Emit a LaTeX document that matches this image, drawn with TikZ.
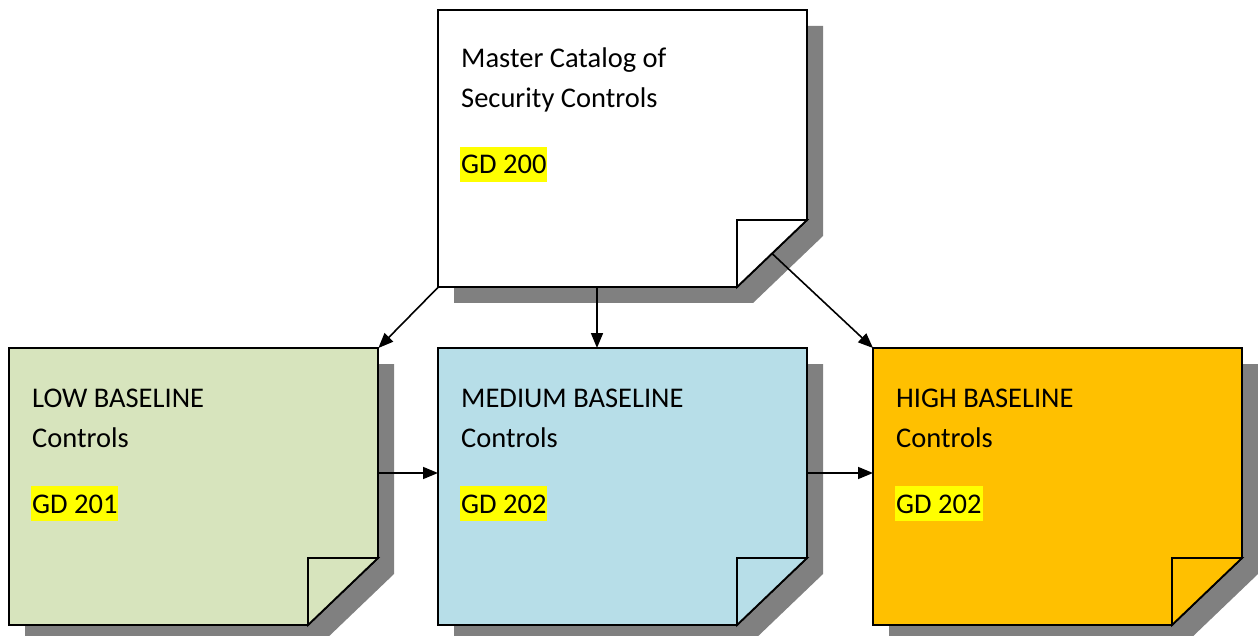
\documentclass[tikz,border=0pt]{standalone}
\usepackage{fontspec}
\setmainfont{Carlito}
\usetikzlibrary{arrows.meta}
\definecolor{lowgreen}{HTML}{D7E4BD}
\definecolor{medblue}{HTML}{B7DEE8}
\definecolor{highorange}{HTML}{FFC000}
\definecolor{shadowgray}{HTML}{808080}
\definecolor{hlyellow}{HTML}{FFFF00}
\tikzset{
  shadowfill/.style={fill=shadowgray},
  noteline/.style={draw=black, line width=1.8pt, line join=miter},
  txt/.style={anchor=base west, inner sep=0pt, font=\fontsize{28.5}{40}\selectfont},
  hl/.style={anchor=base west, inner xsep=1pt, inner ysep=0pt, fill=hlyellow, text height=27pt, text depth=8pt, font=\fontsize{28.5}{40}\selectfont},
  conn/.style={line width=1.6pt, -{Triangle[length=15pt,width=12pt]}},
}
% #1 name, #2 left, #3 top, #4 fill colour
\newcommand\notebox[4]{%
  \node[rectangle, minimum width=369pt, minimum height=277pt, inner sep=0pt, anchor=north west] (#1) at (#2,#3) {};
  \fill[shadowfill] ({#2+16},{#3+16}) -- ({#2+385},{#3+16}) -- ({#2+385},{#3+226}) -- ({#2+315},{#3+293}) -- ({#2+16},{#3+293}) -- cycle;
  \path[noteline, fill=#4] (#2,#3) -- ({#2+369},#3) -- ({#2+369},{#3+210}) -- ({#2+299},{#3+277}) -- (#2,{#3+277}) -- cycle;
  \path[noteline, fill=#4] ({#2+299},{#3+210}) -- ({#2+369},{#3+210}) -- ({#2+299},{#3+277}) -- cycle;
  \coordinate (#1fold) at ({#2+334},{#3+243.5});
}
\begin{document}
\begin{tikzpicture}[x=1pt,y=-1pt]
\useasboundingbox (0,0) rectangle (1258,636);
\fill[white] (0,0) rectangle (1258,636);

\notebox{master}{438}{10}{white}
\notebox{low}{9}{348}{lowgreen}
\notebox{med}{438}{348}{medblue}
\notebox{high}{873}{348}{highorange}

\node[txt] (mt1) at (461,68) {Master Catalog of};
\node[txt] (mt2) at (461,108) {Security Controls};
\node[hl] (mt3) at (460,174) {GD 200};

\node[txt] (lt1) at (32,407) {LOW BASELINE};
\node[txt] (lt2) at (32,447) {Controls};
\node[hl] (lt3) at (31,513) {GD 201};

\node[txt] (mdt1) at (461,407) {MEDIUM BASELINE};
\node[txt] (mdt2) at (461,447) {Controls};
\node[hl] (mdt3) at (460,513) {GD 202};

\node[txt] (ht1) at (896,407) {HIGH BASELINE};
\node[txt] (ht2) at (896,447) {Controls};
\node[hl] (ht3) at (895,513) {GD 202};

\coordinate (rowy) at (0,473);
\draw[conn] (master.south west) -- (low.north east);
\draw[conn] (master.south -| 597,0) -- (med.north -| 597,0);
\draw[conn] (masterfold) -- (high.north west);
\draw[conn] (low.east |- rowy) -- (med.west |- rowy);
\draw[conn] (med.east |- rowy) -- (high.west |- rowy);
\end{tikzpicture}
\end{document}
